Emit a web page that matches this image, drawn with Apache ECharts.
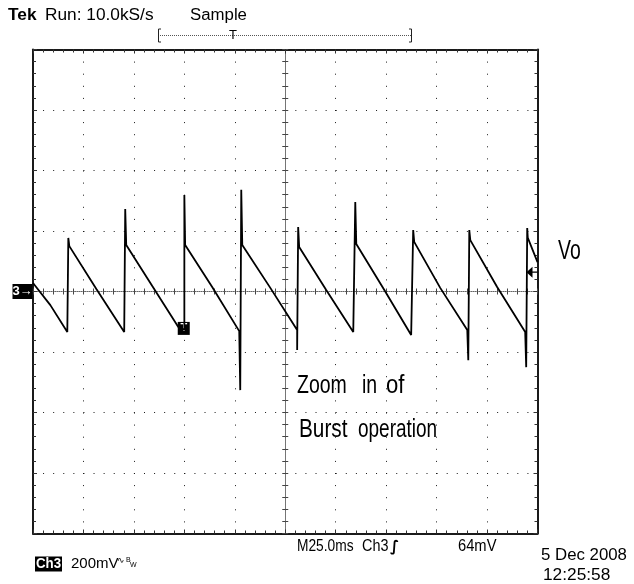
<!DOCTYPE html>
<html>
<head>
<meta charset="utf-8">
<script src="https://cdn.jsdelivr.net/npm/echarts@6/dist/echarts.min.js"></script>
<style>
html,body{margin:0;padding:0;background:#fff;}
#c{width:634px;height:584px;}
</style>
</head>
<body>
<div id="c"></div>
<script>
// ---- data (time in ms, 25 ms/div; voltage in mV, 200 mV/div) ----
const timeMs = [-125, -116.4, -108.0, -107.5, -107.0, -93.6, -79.8, -79.3, -78.8, -65.9, -53.0, -50.0, -50.0, -49.6, -36.2, -22.8, -22.3, -21.8, -21.3, -7.4, 5.9, 5.9, 6.4, 6.9, 20.3, 33.7, 34.7, 35.2, 49.1, 62.4, 63.4, 63.9, 76.8, 90.2, 90.7, 91.2, 91.7, 105.0, 118.9, 119.4, 119.9, 120.2, 125];
const voltsMv = [28, -45, -134, 177, 150, 8, -134, 273, 154, 18, -117, -127, 319, 154, 15, -131, -326, 336, 154, 12, -127, -193, 213, 147, 5, -134, 296, 157, 5, -144, 203, 164, 12, -127, -227, 203, 170, 15, -134, -250, 210, 177, 97];
const xRange = [-125, 125];
const xDiv = 25;
const yRange = [-800, 800];
const yDiv = 200;
const groundLevel = 0;
const triggerLevelMv = 64;
const triggerMark = [-50.3, -122];

const chart = echarts.init(document.getElementById('c'), null, {renderer: 'canvas'});
const pts = timeMs.map((t, i) => [t, voltsMv[i]]);

const FR = '#1a1a1a';
const GRIDC = '#1a1a1a';

function frameX(pos) {
  return {
    type: 'value', gridIndex: 0, position: pos, min: xRange[0], max: xRange[1], interval: xDiv,
    axisLine: {show: true, onZero: false, lineStyle: {color: FR, width: 2}},
    axisTick: {show: true, inside: true, length: 4, lineStyle: {color: '#333'}},
    minorTick: {show: true, splitNumber: 5, length: 3, lineStyle: {color: '#333'}},
    axisLabel: {show: false},
    splitLine: {show: pos === 'bottom', lineStyle: {color: GRIDC, width: 1, type: [1, 11.1]}}
  };
}
function frameY(pos) {
  return {
    type: 'value', gridIndex: 0, position: pos, min: yRange[0], max: yRange[1], interval: yDiv,
    axisLine: {show: true, onZero: false, lineStyle: {color: FR, width: 2}},
    axisTick: {show: true, inside: true, length: 4, lineStyle: {color: '#333'}},
    minorTick: {show: true, splitNumber: 5, length: 3, lineStyle: {color: '#333'}},
    axisLabel: {show: false},
    splitLine: {show: pos === 'left', lineStyle: {color: GRIDC, width: 1, type: [1, 9.09]}}
  };
}
function centerX(inside) {
  return {
    type: 'value', gridIndex: 0, position: 'bottom', min: xRange[0], max: xRange[1], interval: xDiv,
    axisLine: {show: inside, onZero: true, onZeroAxisIndex: 0, lineStyle: {color: '#666', width: 1, type: [1, 1]}},
    axisTick: {show: true, inside: inside, length: 3, lineStyle: {color: '#444'}},
    minorTick: {show: true, splitNumber: 5, length: 3, lineStyle: {color: '#444'}},
    axisLabel: {show: false}, splitLine: {show: false}
  };
}
function centerY(inside) {
  return {
    type: 'value', gridIndex: 0, position: 'left', min: yRange[0], max: yRange[1], interval: yDiv,
    axisLine: {show: inside, onZero: true, onZeroAxisIndex: 0, lineStyle: {color: '#666', width: 1, type: [1, 1]}},
    axisTick: {show: true, inside: inside, length: 3, lineStyle: {color: '#444'}},
    minorTick: {show: true, splitNumber: 5, length: 3, lineStyle: {color: '#444'}},
    axisLabel: {show: false}, splitLine: {show: false}
  };
}

function txt(text, x, y, size, o) {
  o = o || {};
  return {
    type: 'text', x: x, y: y, scaleX: o.sx || 1, silent: true, z: 10,
    style: {
      text: text, fontSize: size, fontFamily: o.ff || 'Liberation Sans, Arial, sans-serif',
      fontWeight: o.fw || 'normal', fill: o.fill || '#000', align: 'left', verticalAlign: 'middle',
      backgroundColor: o.bg, padding: o.pad
    }
  };
}

const graphics = [
  txt('Tek', 8, 16, 16, {fw: 'bold', sx: 1.08}),
  txt('Run: 10.0kS/s', 45, 16, 16, {sx: 1.08}),
  txt('Sample', 190, 16, 16, {sx: 1.05}),
  // record bar
  {type: 'line', silent: true, shape: {x1: 160, y1: 35.5, x2: 411, y2: 35.5}, style: {stroke: '#555', lineWidth: 1, lineDash: [1, 1]}},
  {type: 'polyline', silent: true, shape: {points: [[161, 29], [158.5, 29], [158.5, 42], [161, 42]]}, style: {stroke: '#222', lineWidth: 1, fill: null}},
  {type: 'polyline', silent: true, shape: {points: [[409, 29], [411.5, 29], [411.5, 42], [409, 42]]}, style: {stroke: '#222', lineWidth: 1, fill: null}},
  txt('T', 229, 35, 13, {sx: 1}),
  // annotations
  txt('Vo', 558, 252, 27, {sx: 0.72}),
  txt('Zoom', 297, 386, 26, {sx: 0.75}),
  txt('in', 362, 386, 26, {sx: 0.75}),
  txt('of', 386, 386, 26, {sx: 0.85}),
  txt('Burst', 299, 430, 26, {sx: 0.8}),
  txt('operation', 358, 430, 26, {sx: 0.73}),
  // bottom status
  txt('Ch3', 35, 564, 14, {fill: '#fff', bg: '#000', pad: [1, 1, 0, 1], fw: 'bold', sx: 0.95}),
  txt('200mV', 71, 564, 15, {sx: 1.0}),
  txt('\u223F', 117, 561, 9, {ff: 'DejaVu Sans'}),
  txt('B', 126, 560, 7, {}),
  txt('W', 130, 565, 7, {}),
  txt('M25.0ms', 297, 547, 16, {sx: 0.86}),
  txt('Ch3', 362, 547, 16, {sx: 0.9}),
  txt('\u222B', 390, 547, 15, {ff: 'DejaVu Sans', fw: 'bold'}),
  txt('64mV', 458, 547, 16, {sx: 0.92}),
  txt('5 Dec 2008', 541, 556, 16, {sx: 1.05}),
  txt('12:25:58', 543, 576, 16, {sx: 1.08})
];

const option = {
  animation: false,
  backgroundColor: '#fff',
  grid: {left: 33, right: 96.5, top: 49.5, bottom: 50.5, containLabel: false, outerBoundsMode: 'none'},
  xAxis: [frameX('bottom'), frameX('top'), centerX(true), centerX(false)],
  yAxis: [frameY('left'), frameY('right'), centerY(true), centerY(false)],
  series: [{
    type: 'line', xAxisIndex: 0, yAxisIndex: 0, data: pts, showSymbol: false, symbol: 'none',
    lineStyle: {color: '#000', width: 1.8}, z: 5, clip: true,
    markPoint: {
      silent: true, animation: false,
      data: [
        {coord: [xRange[0], groundLevel], symbol: 'rect', symbolSize: [20, 15], symbolOffset: [-10.5, 0],
         itemStyle: {color: '#000'}, label: {show: true, formatter: '3\u2192', color: '#fff', fontSize: 13, fontWeight: 'bold', fontFamily: 'Liberation Sans, Arial'}},
        {coord: triggerMark, symbol: 'rect', symbolSize: [12, 13],
         itemStyle: {color: '#000'}, label: {show: true, formatter: 'T', color: '#fff', fontSize: 11, fontWeight: 'bold', fontFamily: 'Liberation Sans, Arial'}},
        {coord: [xRange[1], triggerLevelMv], symbol: 'path://M0,5 L6,0 L6,4.4 L11,4.4 L11,5.6 L6,5.6 L6,10 Z', symbolSize: [11, 11], symbolOffset: [-5.5, 0],
         itemStyle: {color: '#000'}, label: {show: false}}
      ]
    }
  }],
  graphic: graphics
};
chart.setOption(option);
</script>
</body>
</html>
